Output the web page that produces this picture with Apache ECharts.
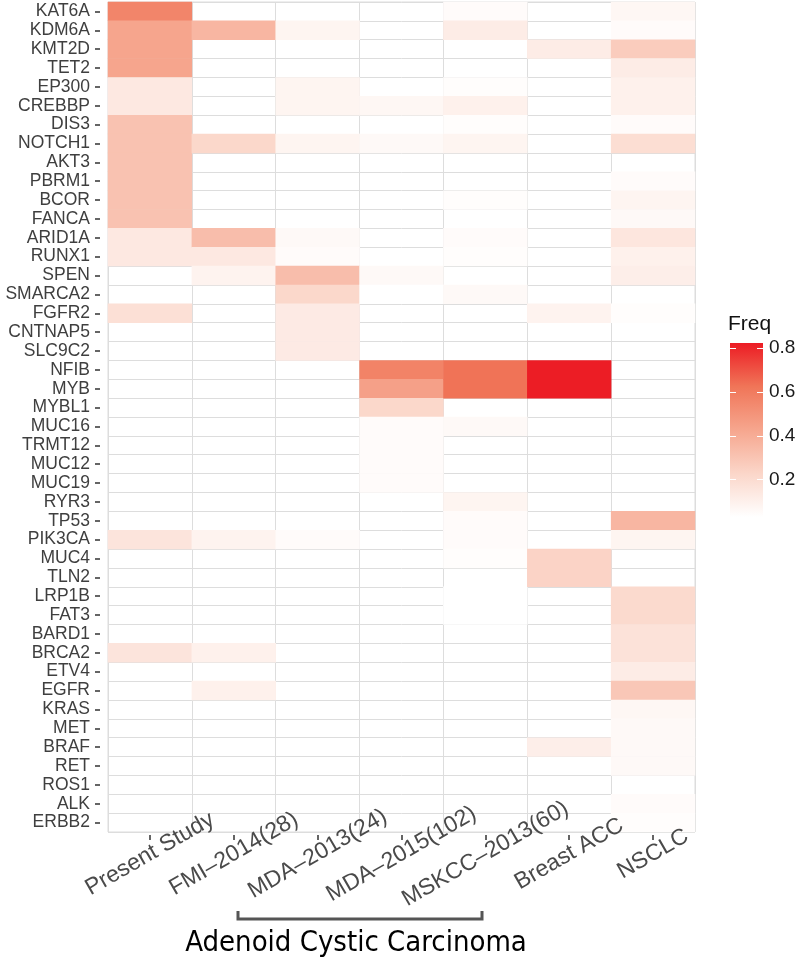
<!DOCTYPE html>
<html>
<head>
<meta charset="utf-8">
<script src="https://cdn.jsdelivr.net/npm/echarts@6/dist/echarts.min.js"></script>
<style>html,body{margin:0;padding:0;background:#fff}#c{width:800px;height:961px}</style>
</head>
<body>
<div id="c"></div>
<script>
// ---- data ----
const genes = ['KAT6A','KDM6A','KMT2D','TET2','EP300','CREBBP','DIS3','NOTCH1','AKT3','PBRM1','BCOR','FANCA','ARID1A','RUNX1','SPEN','SMARCA2','FGFR2','CNTNAP5','SLC9C2','NFIB','MYB','MYBL1','MUC16','TRMT12','MUC12','MUC19','RYR3','TP53','PIK3CA','MUC4','TLN2','LRP1B','FAT3','BARD1','BRCA2','ETV4','EGFR','KRAS','MET','BRAF','RET','ROS1','ALK','ERBB2'];
const studies = ['Present Study','FMI–2014(28)','MDA–2013(24)','MDA–2015(102)','MSKCC–2013(60)','Breast ACC','NSCLC'];
const _ = null;
//                   KAT6A KDM6A KMT2D TET2 EP300 CREBBP DIS3 NOTCH1 AKT3 PBRM1 BCOR FANCA ARID1A RUNX1 SPEN SMARCA2 FGFR2 CNTNAP5 SLC9C2 NFIB MYB MYBL1 MUC16 TRMT12 MUC12 MUC19 RYR3 TP53 PIK3CA MUC4 TLN2 LRP1B FAT3 BARD1 BRCA2 ETV4 EGFR KRAS MET BRAF RET ROS1 ALK ERBB2
const presentStudy = [0.56, 0.43, 0.43, 0.43, 0.14, 0.14, 0.31, 0.31, 0.31, 0.31, 0.31, 0.31, 0.14, 0.14, _, _, 0.18, _, _, _, _, _, _, _, _, _, _, _, 0.16, _, _, _, _, _, 0.16, _, _, _, _, _, _, _, _, _];
const fmi2014 =      [_, 0.36, _, _, _, _, _, 0.22, _, _, _, _, 0.33, 0.14, 0.09, _, _, _, _, _, _, _, _, _, _, _, _, _, 0.09, _, _, _, _, _, 0.1, _, 0.1, _, _, _, _, _, _, _];
const mda2013 =      [_, 0.08, _, _, 0.08, 0.08, _, 0.08, _, _, _, _, 0.06, 0.05, 0.33, 0.22, 0.13, 0.13, 0.13, _, _, _, _, _, _, _, _, _, 0.05, _, _, _, _, _, _, _, _, _, _, _, _, _, _, _];
const mda2015 =      [_, _, _, _, _, 0.07, _, 0.06, _, _, _, _, _, _, 0.06, 0.03, _, _, _, 0.57, 0.45, 0.22, 0.05, 0.05, 0.05, 0.05, _, _, _, _, _, _, _, _, _, _, _, _, _, _, _, _, _, _];
const mskcc2013 =    [0.05, 0.12, _, _, 0.04, 0.1, 0.04, 0.08, _, _, 0.04, _, 0.05, 0.04, _, 0.06, _, _, _, 0.63, 0.63, _, 0.06, _, _, _, 0.08, 0.05, 0.05, 0.04, _, 0.03, 0.03, _, _, _, _, _, _, _, _, _, _, _];
const breastACC =    [_, _, 0.12, _, _, _, _, _, _, _, _, _, _, _, _, _, 0.09, _, _, 0.82, 0.82, _, _, _, _, _, _, _, _, 0.24, 0.24, _, _, _, _, _, _, _, _, 0.11, _, _, _, _];
const nsclc =        [0.07, 0.05, 0.27, 0.12, 0.1, 0.1, 0.05, 0.19, _, 0.05, 0.08, 0.06, 0.15, 0.1, 0.11, _, 0.04, _, _, _, _, _, _, _, _, _, _, 0.36, 0.08, _, _, 0.21, 0.21, 0.17, 0.17, 0.12, 0.29, 0.07, 0.06, 0.06, 0.06, _, 0.05, 0.04];
const columns = [presentStudy, fmi2014, mda2013, mda2015, mskcc2013, breastACC, nsclc];
const freqMin = 0.03, freqMax = 0.823;
const legendTicks = [0.2, 0.4, 0.6, 0.8];
const rampColors = ['#FFFFFF', '#FBD6C9', '#F6A68E', '#F07558', '#EC1C24'];
const groupLabel = 'Adenoid Cystic Carcinoma';

// ---- build ----
const cells = [];
columns.forEach((col, ci) => col.forEach((v, gi) => { if (v !== null) cells.push([ci, gi, v]); }));
const FONT = 'Liberation Sans, Arial, sans-serif';
const chart = echarts.init(document.getElementById('c'), null, {renderer: 'canvas'});
chart.setOption({
  animation: false,
  backgroundColor: '#fff',
  textStyle: {fontFamily: FONT},
  title: {text: 'Freq', left: 728, top: 314, padding: 0, textStyle: {fontSize: 21, fontWeight: 'normal', color: '#111', fontFamily: FONT}},
  grid: [{left: 108, right: 105, top: 2, bottom: 129, show: true, borderColor: '#DDDDDD', borderWidth: 1, backgroundColor: '#fff'},
         {left: 730, top: 343, width: 33, height: 174}],
  xAxis: [{
    // grid lines (below the tiles)
    type: 'category', data: studies, gridIndex: 0, position: 'bottom',
    axisLine: {show: false}, axisTick: {show: false}, axisLabel: {show: false},
    splitLine: {show: true, interval: 0, lineStyle: {color: '#DDDDDD', width: 1}}
  }, {
    type: 'category', data: ['Freq'], gridIndex: 1, show: false
  }, {
    // ticks and labels (drawn above the tiles)
    type: 'category', data: studies, gridIndex: 0, position: 'bottom', offset: 3, z: 10,
    axisLine: {show: false}, splitLine: {show: false},
    axisTick: {show: true, alignWithLabel: true, length: 5, lineStyle: {color: '#333', width: 1.5}},
    axisLabel: {interval: 0, rotate: 30, fontSize: 23, color: '#4A4A4A', align: 'center', verticalAlign: 'middle', margin: 19, fontFamily: FONT}
  }],
  yAxis: [{
    type: 'category', data: genes, gridIndex: 0, inverse: true, offset: 8,
    axisLine: {show: false},
    axisTick: {show: true, alignWithLabel: true, length: 5, lineStyle: {color: '#333', width: 1.5}},
    axisLabel: {interval: 0, fontSize: 17.5, color: '#3F3F3F', margin: 10, fontFamily: FONT},
    splitLine: {show: true, interval: 0, lineStyle: {color: '#DDDDDD', width: 1}}
  }, {
    type: 'value', gridIndex: 1, position: 'right', min: freqMin, max: freqMax, z: 5,
    axisLine: {show: false}, splitLine: {show: false},
    axisTick: {show: true, inside: true, length: 6, customValues: legendTicks, lineStyle: {color: '#fff', width: 1}},
    axisLabel: {show: true, customValues: legendTicks, fontSize: 19, color: '#1A1A1A', margin: 6, fontFamily: FONT, formatter: v => v.toFixed(1)}
  }, {
    type: 'value', gridIndex: 1, position: 'left', min: freqMin, max: freqMax, z: 5,
    axisLine: {show: false}, splitLine: {show: false}, axisLabel: {show: false},
    axisTick: {show: true, inside: true, length: 6, customValues: legendTicks, lineStyle: {color: '#fff', width: 1}}
  }],
  visualMap: {show: false, type: 'continuous', min: freqMin, max: freqMax, seriesIndex: 0, inRange: {color: rampColors}},
  series: [{
    type: 'heatmap', xAxisIndex: 0, yAxisIndex: 0, data: cells,
    itemStyle: {borderWidth: 0}, emphasis: {disabled: true}
  }, {
    type: 'bar', xAxisIndex: 1, yAxisIndex: 1, data: [freqMax], barWidth: '100%', silent: true,
    itemStyle: {color: {type: 'linear', x: 0, y: 1, x2: 0, y2: 0,
      colorStops: rampColors.map((c, i) => ({offset: i / (rampColors.length - 1), color: c}))}}
  }],
  graphic: [{
    type: 'polyline', silent: true,
    shape: {points: [[238, 911], [238, 919], [482, 919], [482, 911]]},
    style: {stroke: '#555', lineWidth: 3, fill: null}
  }, {
    type: 'text', silent: true, x: 356, y: 943,
    style: {text: groupLabel, fill: '#000', font: '29px "Liberation Sans Narrow", "DejaVu Sans Condensed", sans-serif', align: 'center', verticalAlign: 'middle'}
  }]
});
</script>
</body>
</html>
